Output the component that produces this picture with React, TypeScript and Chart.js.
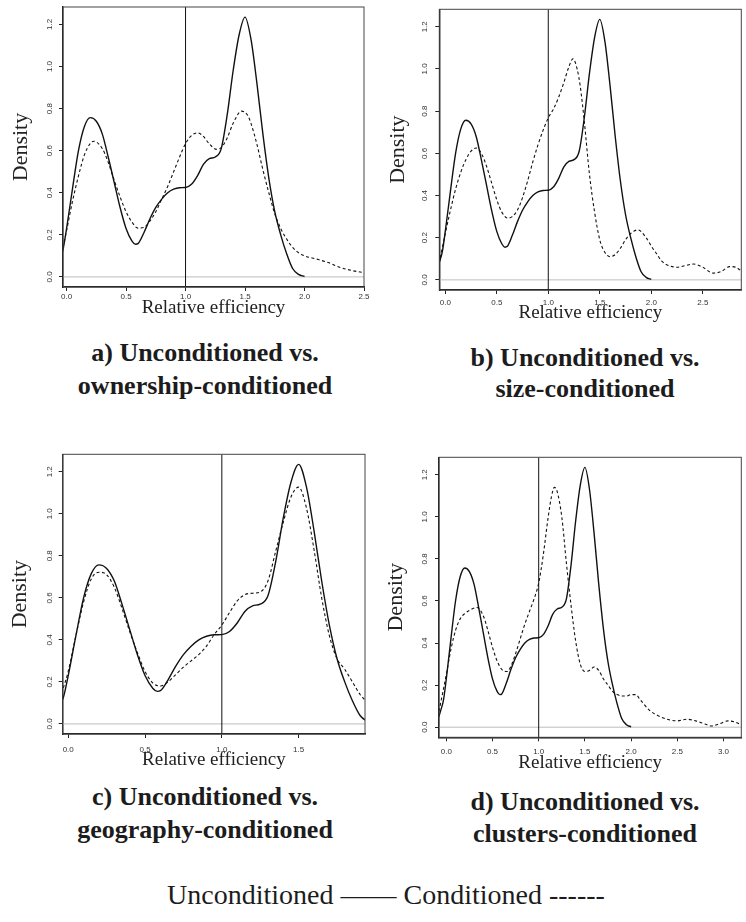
import { useEffect, useRef } from "react";
import { Chart, registerables } from "chart.js";

Chart.register(...registerables);
Chart.defaults.font.family = "'Liberation Sans', Arial, sans-serif";

// ---------- DATA ----------
// Unconditioned density (solid, identical in all four panels)
const uncondX = [-0.08, -0.06, -0.03, 0, 0.05, 0.1, 0.15, 0.2, 0.25, 0.3, 0.35, 0.4, 0.45, 0.5, 0.55, 0.58, 0.6, 0.65, 0.7, 0.75, 0.8, 0.85, 0.9, 0.95, 1.0, 1.05, 1.1, 1.15, 1.2, 1.25, 1.3, 1.35, 1.4, 1.45, 1.5, 1.55, 1.6, 1.65, 1.7, 1.75, 1.8, 1.85, 1.9, 1.95, 2.0];
const uncondY = [0.05, 0.08, 0.13, 0.23, 0.42, 0.6, 0.715, 0.757, 0.74, 0.68, 0.57, 0.45, 0.33, 0.23, 0.17, 0.155, 0.158, 0.21, 0.275, 0.33, 0.37, 0.4, 0.417, 0.424, 0.425, 0.44, 0.48, 0.535, 0.562, 0.57, 0.61, 0.77, 0.98, 1.15, 1.235, 1.13, 0.92, 0.68, 0.47, 0.31, 0.2, 0.11, 0.04, 0.012, 0.002];

// a) ownership-conditioned (dashed)
const ownX = [-0.05, -0.03, 0, 0.05, 0.1, 0.15, 0.2, 0.23, 0.3, 0.35, 0.4, 0.45, 0.5, 0.55, 0.6, 0.65, 0.7, 0.75, 0.8, 0.85, 0.9, 0.95, 1.0, 1.05, 1.1, 1.15, 1.2, 1.26, 1.3, 1.35, 1.4, 1.47, 1.52, 1.55, 1.6, 1.65, 1.7, 1.75, 1.8, 1.85, 1.9, 1.95, 2.0, 2.1, 2.2, 2.3, 2.4, 2.5];
const ownY = [0.09, 0.14, 0.22, 0.36, 0.48, 0.58, 0.635, 0.645, 0.61, 0.545, 0.46, 0.38, 0.31, 0.26, 0.232, 0.235, 0.265, 0.31, 0.37, 0.43, 0.5, 0.57, 0.634, 0.672, 0.685, 0.668, 0.632, 0.607, 0.615, 0.66, 0.73, 0.788, 0.77, 0.73, 0.63, 0.51, 0.4, 0.3, 0.23, 0.18, 0.14, 0.115, 0.1, 0.085, 0.068, 0.045, 0.03, 0.02];

// b) size-conditioned (dashed)
const sizeX = [-0.07, -0.06, 0, 0.05, 0.1, 0.15, 0.2, 0.25, 0.3, 0.35, 0.4, 0.45, 0.5, 0.55, 0.61, 0.65, 0.7, 0.75, 0.8, 0.85, 0.9, 0.95, 1.0, 1.05, 1.1, 1.15, 1.2, 1.24, 1.28, 1.31, 1.35, 1.4, 1.45, 1.5, 1.55, 1.6, 1.65, 1.7, 1.75, 1.8, 1.87, 1.95, 2.0, 2.05, 2.1, 2.15, 2.25, 2.33, 2.41, 2.5, 2.6, 2.68, 2.76, 2.82, 2.88];
const sizeY = [0.06, 0.08, 0.22, 0.33, 0.43, 0.51, 0.57, 0.61, 0.625, 0.6, 0.54, 0.46, 0.38, 0.32, 0.293, 0.3, 0.33, 0.39, 0.47, 0.56, 0.64, 0.71, 0.768, 0.81, 0.865, 0.934, 1.01, 1.048, 1.0, 0.92, 0.75, 0.5, 0.32, 0.19, 0.13, 0.11, 0.12, 0.15, 0.19, 0.22, 0.237, 0.2, 0.16, 0.125, 0.09, 0.072, 0.06, 0.068, 0.075, 0.06, 0.032, 0.04, 0.063, 0.06, 0.04];

// c) geography-conditioned (dashed)
const geoX = [-0.05, -0.036, 0, 0.05, 0.1, 0.15, 0.2, 0.25, 0.3, 0.35, 0.4, 0.45, 0.5, 0.55, 0.6, 0.65, 0.7, 0.75, 0.8, 0.85, 0.9, 0.95, 1.0, 1.05, 1.1, 1.15, 1.2, 1.25, 1.3, 1.35, 1.4, 1.45, 1.5, 1.55, 1.6, 1.65, 1.7, 1.75, 1.8, 1.85, 1.9, 1.95];
const geoY = [0.12, 0.16, 0.25, 0.42, 0.58, 0.69, 0.722, 0.71, 0.65, 0.55, 0.44, 0.34, 0.25, 0.195, 0.18, 0.2, 0.235, 0.27, 0.3, 0.33, 0.37, 0.425, 0.47, 0.53, 0.585, 0.615, 0.622, 0.628, 0.68, 0.82, 0.96, 1.08, 1.127, 1.03, 0.83, 0.6, 0.42, 0.31, 0.26, 0.2, 0.14, 0.1];

// d) clusters-conditioned (dashed)
const clusX = [-0.09, -0.076, 0, 0.05, 0.1, 0.15, 0.2, 0.25, 0.33, 0.4, 0.45, 0.5, 0.55, 0.6, 0.66, 0.7, 0.75, 0.8, 0.85, 0.9, 0.95, 1.0, 1.05, 1.1, 1.14, 1.17, 1.2, 1.25, 1.3, 1.35, 1.4, 1.45, 1.5, 1.55, 1.6, 1.65, 1.7, 1.75, 1.8, 1.85, 1.9, 1.95, 2.0, 2.05, 2.1, 2.2, 2.3, 2.4, 2.5, 2.6, 2.7, 2.8, 2.87, 2.95, 3.05, 3.12, 3.2];
const clusY = [0.05, 0.082, 0.25, 0.37, 0.46, 0.515, 0.54, 0.555, 0.569, 0.53, 0.46, 0.38, 0.315, 0.275, 0.265, 0.29, 0.35, 0.42, 0.49, 0.55, 0.61, 0.685, 0.82, 0.99, 1.1, 1.14, 1.12, 1.0, 0.78, 0.58, 0.41, 0.3, 0.265, 0.27, 0.286, 0.27, 0.23, 0.2, 0.17, 0.155, 0.148, 0.148, 0.155, 0.155, 0.13, 0.08, 0.053, 0.037, 0.03, 0.038, 0.03, 0.015, 0.006, 0.015, 0.03, 0.025, 0.01];

// tick labels
const xTicksA = [0, 0.5, 1.0, 1.5, 2.0, 2.5];
const xTicksB = [0, 0.5, 1.0, 1.5, 2.0, 2.5];
const xTicksC = [0, 0.5, 1.0, 1.5];
const xTicksD = [0, 0.5, 1.0, 1.5, 2.0, 2.5, 3.0];
const yTicks = [0, 0.2, 0.4, 0.6, 0.8, 1.0, 1.2];

// reference lines
const refX = 1.0;
const baseY = 0;

// text
const xTitle = "Relative efficiency";
const yTitle = "Density";
const captionsA = ["a) Unconditioned vs.", "ownership-conditioned"];
const captionsB = ["b) Unconditioned vs.", "size-conditioned"];
const captionsC = ["c) Unconditioned vs.", "geography-conditioned"];
const captionsD = ["d) Unconditioned vs.", "clusters-conditioned"];
const legendText = "Unconditioned —— Conditioned ------";

// ---------- LAYOUT ----------
const Y_MIN = -0.048;
const Y_MAX = 1.283;

type PanelCfg = {
  condX: number[];
  condY: number[];
  xTicks: number[];
  xMin: number;
  xMax: number;
  area: { l: number; t: number; r: number; b: number };
  xTickY: number;
  xTitleY: number;
  yTickX: number;
  yTitleX: number;
  captions: string[];
  capX: number;
  capY1: number;
  capY2: number;
};

const panels: PanelCfg[] = [
  { condX: ownX, condY: ownY, xTicks: xTicksA, xMin: -0.03, xMax: 2.5, area: { l: 63, t: 7, r: 364, b: 287 }, xTickY: 297, xTitleY: 308, yTickX: 50, yTitleX: 21.7, captions: captionsA, capX: 205, capY1: 353, capY2: 386 },
  { condX: sizeX, condY: sizeY, xTicks: xTicksB, xMin: -0.058, xMax: 2.874, area: { l: 439.3, t: 9.3, r: 741.3, b: 290 }, xTickY: 303, xTitleY: 313, yTickX: 425, yTitleX: 398, captions: captionsB, capX: 585, capY1: 358, capY2: 389 },
  { condX: geoX, condY: geoY, xTicks: xTicksC, xMin: -0.036, xMax: 1.932, area: { l: 62.7, t: 454.3, r: 365, b: 734 }, xTickY: 750, xTitleY: 760, yTickX: 50, yTitleX: 20, captions: captionsC, capX: 205, capY1: 797, capY2: 830 },
  { condX: clusX, condY: clusY, xTicks: xTicksD, xMin: -0.079, xMax: 3.193, area: { l: 439, t: 457.3, r: 741.3, b: 737.3 }, xTickY: 751.5, xTitleY: 763, yTickX: 425, yTitleX: 396, captions: captionsD, capX: 585, capY1: 802, capY2: 834 },
];

const Y_AXIS_W = 60;
const TICK_LEN = 4;
const X_TITLE_SIZE = 19;
const Y_TITLE_SIZE = 22;

const framePlugin = {
  id: "frame",
  afterDatasetsDraw(chart: any) {
    const { ctx, chartArea } = chart;
    const { left, top, right, bottom } = chartArea;
    ctx.save();
    ctx.strokeStyle = "#444";
    ctx.lineWidth = 1;
    ctx.strokeRect(left, top, right - left, bottom - top);
    ctx.restore();
  },
};

function toPoints(xs: number[], ys: number[]) {
  return xs.map((x, i) => ({ x, y: ys[i] }));
}

function Panel({ cfg }: { cfg: PanelCfg }) {
  const ref = useRef<HTMLCanvasElement>(null);
  const { area } = cfg;
  const x0 = Math.floor(area.l - Y_AXIS_W - 3);
  const padL = area.l - Y_AXIS_W - x0;
  const y0 = Math.floor(area.t - 13);
  const padT = area.t - y0;
  const xh = cfg.xTitleY - area.b + (X_TITLE_SIZE * 1.2) / 2;
  const W = Math.ceil(area.r + 10 - x0);
  const padR = x0 + W - area.r;
  const H = Math.ceil(area.b + xh + 4 - y0);
  const padB = y0 + H - area.b - xh;
  const yTitlePad = cfg.yTitleX - (area.l - Y_AXIS_W) - (Y_TITLE_SIZE * 1.2) / 2;
  const yTickPad = area.l - TICK_LEN - 5.56 - cfg.yTickX;
  const xTickPad = Math.max(0, cfg.xTickY - 5 - area.b - TICK_LEN);

  useEffect(() => {
    if (!ref.current) return;
    const chart = new Chart(ref.current, {
      type: "line",
      data: {
        datasets: [
          {
            data: toPoints(uncondX, uncondY),
            borderColor: "#111",
            borderWidth: 1.4,
            pointRadius: 0,
            cubicInterpolationMode: "monotone",
            clip: 0,
          } as any,
          {
            data: toPoints(cfg.condX, cfg.condY),
            borderColor: "#111",
            borderWidth: 1.1,
            borderDash: [3, 2.5],
            pointRadius: 0,
            cubicInterpolationMode: "monotone",
            clip: 0,
          },
          {
            data: [
              { x: refX, y: Y_MIN },
              { x: refX, y: Y_MAX },
            ],
            borderColor: "#111",
            borderWidth: 1,
            pointRadius: 0,
            clip: 0,
          },
          {
            data: [
              { x: cfg.xMin, y: baseY },
              { x: cfg.xMax, y: baseY },
            ],
            borderColor: "#bdbdbd",
            borderWidth: 1,
            pointRadius: 0,
            clip: 0,
          },
        ],
      },
      options: {
        animation: false,
        responsive: false,
        events: [],
        layout: { padding: { left: padL, top: padT, right: padR, bottom: padB } },
        plugins: { legend: { display: false }, tooltip: { enabled: false } },
        scales: {
          x: {
            type: "linear",
            min: cfg.xMin,
            max: cfg.xMax,
            afterBuildTicks: (s: any) => {
              s.ticks = cfg.xTicks.map((v) => ({ value: v }));
            },
            afterFit: (s: any) => {
              s.height = xh;
            },
            grid: { display: true, drawOnChartArea: false, drawTicks: true, tickLength: TICK_LEN, color: "#222", lineWidth: 1 },
            border: { display: true, color: "#111", width: 1.4 },
            ticks: {
              autoSkip: false,
              maxRotation: 0,
              padding: xTickPad,
              color: "#333",
              font: { family: "'Liberation Sans', Arial, sans-serif", size: 8 },
              callback: (v: any) => Number(v).toFixed(1),
            },
            title: {
              display: true,
              text: xTitle,
              color: "#222",
              font: { family: "'Liberation Serif', 'Times New Roman', serif", size: X_TITLE_SIZE },
              padding: { top: 0, bottom: 0 },
            },
          },
          y: {
            type: "linear",
            min: Y_MIN,
            max: Y_MAX,
            afterBuildTicks: (s: any) => {
              s.ticks = yTicks.map((v) => ({ value: v }));
            },
            afterFit: (s: any) => {
              s.width = Y_AXIS_W;
            },
            grid: { display: true, drawOnChartArea: false, drawTicks: true, tickLength: TICK_LEN, color: "#222", lineWidth: 1 },
            border: { display: true, color: "#111", width: 1.4 },
            ticks: {
              autoSkip: false,
              minRotation: 90,
              maxRotation: 90,
              crossAlign: "center",
              padding: yTickPad,
              color: "#333",
              font: { family: "'Liberation Sans', Arial, sans-serif", size: 8 },
              callback: (v: any) => Number(v).toFixed(1),
            },
            title: {
              display: true,
              text: yTitle,
              color: "#222",
              font: { family: "'Liberation Serif', 'Times New Roman', serif", size: Y_TITLE_SIZE },
              padding: { top: yTitlePad, bottom: 0 },
            },
          },
        },
      },
      plugins: [framePlugin],
    });
    return () => chart.destroy();
  }, [cfg]);

  return (
    <>
      <canvas
        ref={ref}
        width={W}
        height={H}
        style={{ position: "absolute", left: x0, top: y0, width: W, height: H }}
      />
      {cfg.captions.map((c, i) => (
        <div
          key={i}
          style={{
            position: "absolute",
            left: cfg.capX,
            top: i === 0 ? cfg.capY1 : cfg.capY2,
            transform: "translate(-50%, -50%)",
            whiteSpace: "nowrap",
            fontFamily: "'Liberation Serif', 'Times New Roman', serif",
            fontWeight: "bold",
            fontSize: 26,
            lineHeight: "30px",
            color: "#1c1c1c",
          }}
        >
          {c}
        </div>
      ))}
    </>
  );
}

export default function App() {
  return (
    <div
      style={{
        position: "absolute",
        left: 0,
        top: 0,
        width: 746,
        height: 922,
        overflow: "hidden",
        background: "#fff",
      }}
    >
      {panels.map((p, i) => (
        <Panel key={i} cfg={p} />
      ))}
      <div
        style={{
          position: "absolute",
          left: 386,
          top: 895,
          transform: "translate(-50%, -50%)",
          whiteSpace: "nowrap",
          fontFamily: "'Liberation Serif', 'Times New Roman', serif",
          fontSize: 28,
          lineHeight: "32px",
          color: "#1c1c1c",
        }}
      >
        {legendText}
      </div>
    </div>
  );
}
